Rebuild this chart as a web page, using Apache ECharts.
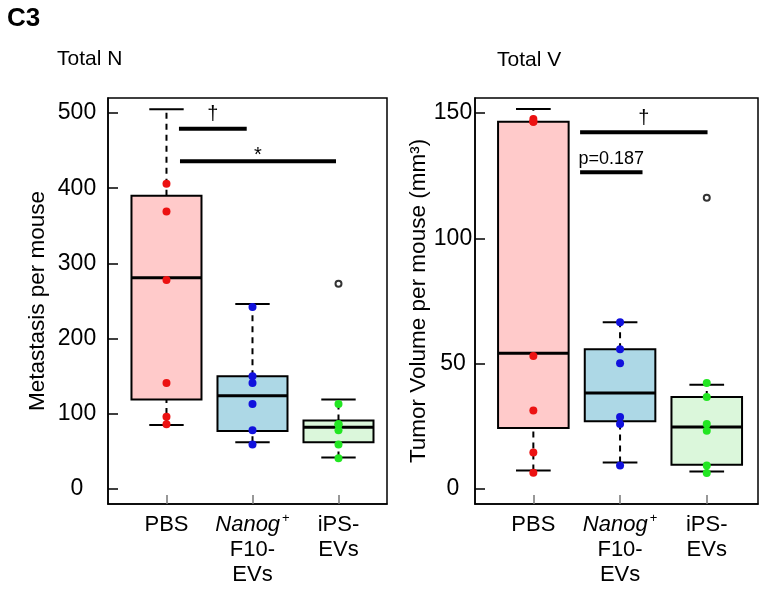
<!DOCTYPE html>
<html>
<head>
<meta charset="utf-8">
<script src="https://cdn.jsdelivr.net/npm/echarts@6/dist/echarts.min.js"></script>
<style>html,body{margin:0;padding:0;background:#fff}#c{width:769px;height:596px}</style>
</head>
<body>
<div id="c"></div>
<script>
// ---- data ----
const categories = ['PBS', 'Nanog+\nF10-\nEVs', 'iPS-\nEVs'];
const leftTicks = [0, 100, 200, 300, 400, 500];
const rightTicks = [0, 50, 100, 150];
// box stats: [lower whisker, Q1, median, Q3, upper whisker]
const nBox = [[85, 119, 281, 390, 505], [62, 77, 124, 150, 246], [42, 62, 82, 91, 119]];
const nDots = [[406, 369, 278, 141, 96, 86], [242, 150, 141, 113, 78, 59], [113, 86, 86, 78, 59, 41]];
const nOutliers = [[], [], [273]];
const vBox = [[7.3, 24.2, 54.1, 146.5, 151.6], [10.5, 26.9, 38.2, 55.7, 66.5], [6.9, 9.6, 24.6, 36.6, 41.5]];
const vDots = [[147.6, 146.5, 146.5, 53, 31.2, 14.5, 6.4], [66.5, 55.7, 50.1, 28.6, 25.8, 9.3], [42.2, 36.6, 25.8, 23.1, 9.3, 6.3]];
const vOutliers = [[], [], [116.2]];
// significance bars: [from, to, y]
const nSig = [[1.145, 1.933, 479], [1.157, 2.971, 436]];
const nSigLabels = ['†', '*'];
const vSig = [[1.539, 3.009, 142.3], [1.539, 2.259, 126.4]];
const vSigLabels = ['†', 'p=0.187'];

// ---- styles ----
const FONT = 'Liberation Sans, Arial, Helvetica, sans-serif';
const fills = ['#ffcaca', '#add8e6', '#dbf7db'];
const dotColors = ['#ec1212', '#1111dd', '#22e622'];

function boxRender(params, api) {
  const x = api.value(0);
  const lo = api.value(1), q1 = api.value(2), med = api.value(3), q3 = api.value(4), hi = api.value(5);
  const hw = 0.407, cw = 0.2;
  const p = (xx, yy) => api.coord([xx, yy]);
  const a = p(x - hw, q3), b = p(x + hw, q1);
  const ln = (p1, p2, st) => ({type: 'line', shape: {x1: p1[0], y1: p1[1], x2: p2[0], y2: p2[1]}, style: st});
  const dash = {stroke: '#000', lineWidth: 2, lineDash: [6, 5]};
  const solid = {stroke: '#000', lineWidth: 2};
  return {type: 'group', children: [
    ln(p(x, q3), p(x, hi), dash),
    ln(p(x, lo), p(x, q1), dash),
    ln(p(x - cw, hi), p(x + cw, hi), solid),
    ln(p(x - cw, lo), p(x + cw, lo), solid),
    {type: 'rect', shape: {x: a[0], y: a[1], width: b[0] - a[0], height: b[1] - a[1]},
     style: {fill: fills[params.dataIndex], stroke: '#000', lineWidth: 2}},
    ln(p(x - hw, med), p(x + hw, med), {stroke: '#000', lineWidth: 3})
  ]};
}
function sigRender(labels) {
  return function (params, api) {
    const p1 = api.coord([api.value(0), api.value(2)]);
    const p2 = api.coord([api.value(1), api.value(2)]);
    const lab = labels[params.dataIndex];
    return {type: 'group', children: [
      {type: 'line', shape: {x1: p1[0], y1: p1[1], x2: p2[0], y2: p2[1]}, style: {stroke: '#000', lineWidth: 4}},
      {type: 'text', x: (p1[0] + p2[0]) / 2, y: p1[1] - (lab === '*' ? -4 : 4),
       style: {text: lab, fill: '#000', font: (lab.length > 2 ? 18 : 20) + 'px ' + FONT, align: 'center', verticalAlign: 'bottom'}}
    ]};
  };
}

function xAxisFor(gi, min, max) {
  return {
    type: 'value', gridIndex: gi, min: min, max: max,
    splitLine: {show: false},
    axisLine: {show: true, onZero: false, lineStyle: {color: '#000', width: 1.5}},
    axisTick: {show: true, inside: true, length: 9, customValues: [1, 2, 3], lineStyle: {color: '#777', width: 1.5}},
    axisLabel: {
      customValues: [1, 2, 3], margin: 8, color: '#000', fontSize: 22, lineHeight: 25, fontFamily: FONT,
      formatter: v => {
        const i = Math.round(v) - 1;
        if (i === 1) return '{it|Nanog}{sup|+}\n' + categories[1].split('\n').slice(1).join('\n');
        return categories[i];
      },
      rich: {
        it: {fontStyle: 'italic', fontSize: 22, lineHeight: 25, fontFamily: FONT, color: '#000'},
        sup: {fontSize: 13, verticalAlign: 'top', lineHeight: 25, padding: [0, 0, 8, 2], fontFamily: FONT, color: '#000'}
      }
    }
  };
}
function yAxisFor(gi, min, max, ticks, margin, name, gap) {
  return {
    type: 'value', gridIndex: gi, min: min, max: max,
    splitLine: {show: false},
    axisLine: {show: true, onZero: false, lineStyle: {color: '#000', width: 1.5}},
    axisTick: {show: true, inside: true, length: 10, customValues: ticks, lineStyle: {color: '#000', width: 1.5}},
    axisLabel: {customValues: ticks, align: 'center', margin: margin, color: '#000', fontSize: 23, fontFamily: FONT},
    name: name, nameLocation: 'middle', nameRotate: 90, nameGap: gap,
    nameTextStyle: {color: '#000', fontSize: 22.5, fontFamily: FONT}
  };
}

function dotSeries(dots, xi, yi) {
  return dots.map((arr, i) => ({
    type: 'scatter', xAxisIndex: xi, yAxisIndex: yi, symbol: 'circle', symbolSize: 8, z: 5,
    itemStyle: {color: dotColors[i], opacity: 1},
    data: arr.map(v => [i + 1, v])
  }));
}
function outlierSeries(outs, xi, yi) {
  const data = [];
  outs.forEach((arr, i) => arr.forEach(v => data.push([i + 1, v])));
  return {type: 'scatter', xAxisIndex: xi, yAxisIndex: yi, symbol: 'circle', symbolSize: 6, z: 5,
          itemStyle: {color: '#fff', borderColor: '#000', borderWidth: 2}, data: data};
}

const chart = echarts.init(document.getElementById('c'), null, {renderer: 'canvas'});
chart.setOption({
  animation: false,
  backgroundColor: '#fff',
  textStyle: {fontFamily: FONT},
  title: [
    {text: 'C3', left: 7, top: 6, padding: 0, textStyle: {fontSize: 26, fontWeight: 'bold', color: '#000', fontFamily: FONT}},
    {text: 'Total N', left: 57, top: 49, padding: 0, textStyle: {fontSize: 21, fontWeight: 'normal', color: '#000', fontFamily: FONT}},
    {text: 'Total V', left: 497, top: 50, padding: 0, textStyle: {fontSize: 21, fontWeight: 'normal', color: '#000', fontFamily: FONT}}
  ],
  grid: [
    {left: 108, top: 98, width: 279, height: 406, show: true, borderColor: '#000', borderWidth: 1.5, containLabel: false},
    {left: 475, top: 98, width: 283, height: 406, show: true, borderColor: '#000', borderWidth: 1.5, containLabel: false}
  ],
  xAxis: [xAxisFor(0, 0.32, 3.564), xAxisFor(1, 0.327, 3.591)],
  yAxis: [
    yAxisFor(0, -20, 520, leftTicks, 31, 'Metastasis per mouse', 59),
    yAxisFor(1, -6.1, 156, rightTicks, 22, 'Tumor Volume per mouse (mm³)', 44)
  ],
  series: [
    {type: 'custom', xAxisIndex: 0, yAxisIndex: 0, renderItem: boxRender, z: 2,
     data: nBox.map((b, i) => [i + 1].concat(b)), encode: {x: 0, y: [1, 2, 3, 4, 5]}},
    {type: 'custom', xAxisIndex: 1, yAxisIndex: 1, renderItem: boxRender, z: 2,
     data: vBox.map((b, i) => [i + 1].concat(b)), encode: {x: 0, y: [1, 2, 3, 4, 5]}},
    {type: 'custom', xAxisIndex: 0, yAxisIndex: 0, renderItem: sigRender(nSigLabels), z: 3,
     data: nSig, encode: {x: [0, 1], y: 2}},
    {type: 'custom', xAxisIndex: 1, yAxisIndex: 1, renderItem: sigRender(vSigLabels), z: 3,
     data: vSig, encode: {x: [0, 1], y: 2}},
    ...dotSeries(nDots, 0, 0),
    ...dotSeries(vDots, 1, 1),
    outlierSeries(nOutliers, 0, 0),
    outlierSeries(vOutliers, 1, 1)
  ]
});
</script>
</body>
</html>
